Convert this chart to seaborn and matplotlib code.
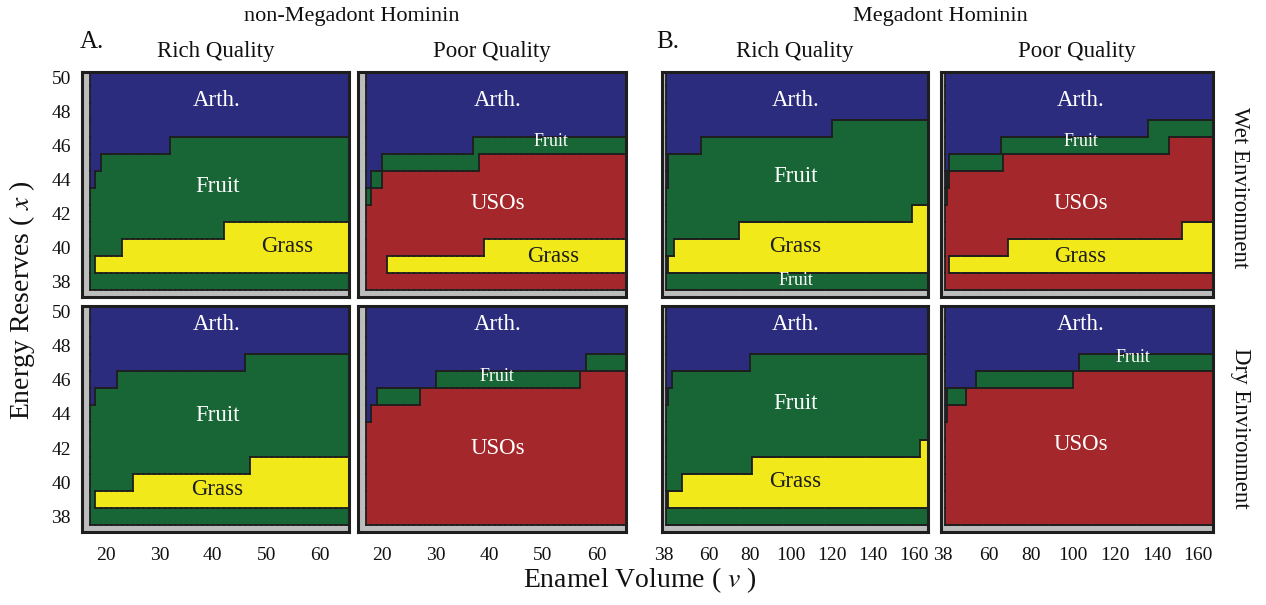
import numpy as np
import matplotlib
matplotlib.use("Agg")
import matplotlib.pyplot as plt
import seaborn as sns
from matplotlib.colors import ListedColormap
from matplotlib.collections import LineCollection

# foraging decision categories and their fills
categories = ["Dead", "Arth.", "Fruit", "USOs", "Grass"]
palette = ["#bdbdbd", "#2b2c7e", "#186535", "#a4282b", "#f2e91b"]

# energy reserves (rows, top to bottom) and enamel volume (columns)
reserves = list(range(50, 36, -1))
dead_reserve = 37
enamel_nm = list(range(15, 66))
enamel_m = list(range(37, 167))
dead_nm = [15, 16]
dead_m = [37, 38]

# bands from top to bottom; each cut = [(enamel from, lowest reserve of band)]
nm_wet_rich_bands = ["Arth.", "Fruit", "Grass", "Fruit"]
nm_wet_rich_cuts = [[(17, 44), (18, 45), (19, 46), (32, 47)],
                    [(17, 39), (18, 40), (23, 41), (42, 42)],
                    [(17, 39)]]

nm_wet_poor_bands = ["Arth.", "Fruit", "USOs", "Grass", "USOs"]
nm_wet_poor_cuts = [[(17, 44), (18, 45), (20, 46), (37, 47)],
                    [(17, 43), (18, 44), (20, 45), (38, 46)],
                    [(17, 39), (21, 40), (39, 41)],
                    [(17, 39)]]

nm_dry_rich_bands = ["Arth.", "Fruit", "Grass", "Fruit"]
nm_dry_rich_cuts = [[(17, 45), (18, 46), (22, 47), (46, 48)],
                    [(17, 39), (18, 40), (25, 41), (47, 42)],
                    [(17, 39)]]

nm_dry_poor_bands = ["Arth.", "Fruit", "USOs"]
nm_dry_poor_cuts = [[(17, 44), (18, 45), (19, 46), (30, 47), (58, 48)],
                    [(17, 44), (18, 45), (27, 46), (57, 47)]]

m_wet_rich_bands = ["Arth.", "Fruit", "Grass", "Fruit"]
m_wet_rich_cuts = [[(39, 44), (40, 46), (56, 47), (120, 48)],
                   [(39, 39), (40, 40), (43, 41), (75, 42), (159, 43)],
                   [(39, 39)]]

m_wet_poor_bands = ["Arth.", "Fruit", "USOs", "Grass", "USOs"]
m_wet_poor_cuts = [[(39, 44), (40, 45), (41, 46), (66, 47), (136, 48)],
                   [(39, 43), (40, 44), (41, 45), (67, 46), (146, 47)],
                   [(39, 39), (41, 40), (69, 41), (152, 42)],
                   [(39, 39)]]

m_dry_rich_bands = ["Arth.", "Fruit", "Grass", "Fruit"]
m_dry_rich_cuts = [[(39, 45), (40, 46), (42, 47), (80, 48)],
                   [(39, 39), (40, 40), (47, 41), (81, 42), (163, 43)],
                   [(39, 39)]]

m_dry_poor_bands = ["Arth.", "Fruit", "USOs"]
m_dry_poor_cuts = [[(39, 44), (40, 46), (54, 47), (103, 48)],
                   [(39, 44), (40, 45), (49, 46), (100, 47)]]

nm_ticks = [20, 30, 40, 50, 60]
m_ticks = [38, 60, 80, 100, 120, 140, 160]
reserve_ticks = [38, 40, 42, 44, 46, 48, 50]


def decision_grid(enamel, dead_cols, bands, cuts):
    grid = np.zeros((len(reserves), len(enamel)), dtype=int)
    for j, v in enumerate(enamel):
        floors = []
        for steps in cuts:
            lev = steps[0][1]
            for v_from, level in steps:
                if v >= v_from:
                    lev = level
            floors.append(lev)
        for i, x in enumerate(reserves):
            band = bands[-1]
            for b, lev in enumerate(floors):
                if x >= lev:
                    band = bands[b]
                    break
            grid[i, j] = categories.index(band)
        if v in dead_cols:
            grid[:, j] = 0
    grid[reserves.index(dead_reserve), :] = 0
    return grid


def edges(grid):
    segs = []
    nr, nc = grid.shape
    for i in range(nr):
        for j in range(nc):
            if j + 1 < nc and grid[i, j] != grid[i, j + 1]:
                segs.append([(j + 1, i), (j + 1, i + 1)])
            if i + 1 < nr and grid[i, j] != grid[i + 1, j]:
                segs.append([(j, i + 1), (j + 1, i + 1)])
    return segs


sns.set_style("white")
plt.rcParams["font.family"] = ["Liberation Serif", "DejaVu Serif"]
plt.rcParams["mathtext.fontset"] = "stix"
plt.rcParams["text.color"] = "#111111"
plt.rcParams["xtick.color"] = "#111111"
plt.rcParams["ytick.color"] = "#111111"

W, H = 1266, 605
fig = plt.figure(figsize=(W / 100, H / 100), dpi=100)
cmap = ListedColormap(palette)
edge = "#1e1e1e"

col_px = [(82, 267), (358, 268), (662, 266), (941, 272)]
row_px = [(72, 225), (306, 226)]

panels = [
    (0, 0, enamel_nm, dead_nm, nm_wet_rich_bands, nm_wet_rich_cuts,
     [("Arth.", 40.8, 48.65, 16.5), ("Fruit", 40.8, 43.6, 16.5), ("Grass", 53.9, 40.05, 16.5)]),
    (0, 1, enamel_nm, dead_nm, nm_wet_poor_bands, nm_wet_poor_cuts,
     [("Arth.", 41.5, 48.65, 16.5), ("Fruit", 51.5, 46.25, 13), ("USOs", 41.5, 42.6, 16.5),
      ("Grass", 52.0, 39.5, 16.5)]),
    (1, 0, enamel_nm, dead_nm, nm_dry_rich_bands, nm_dry_rich_cuts,
     [("Arth.", 40.8, 49.2, 16.5), ("Fruit", 40.8, 43.9, 16.5), ("Grass", 40.8, 39.6, 16.5)]),
    (1, 1, enamel_nm, dead_nm, nm_dry_poor_bands, nm_dry_poor_cuts,
     [("Arth.", 41.5, 49.2, 16.5), ("Fruit", 41.5, 46.2, 13), ("USOs", 41.5, 42.0, 16.5)]),
    (0, 2, enamel_m, dead_m, m_wet_rich_bands, m_wet_rich_cuts,
     [("Arth.", 102.4, 48.65, 16.5), ("Fruit", 102.4, 44.15, 16.5), ("Grass", 102.4, 40.05, 16.5),
      ("Fruit", 102.4, 38.07, 13)]),
    (0, 3, enamel_m, dead_m, m_wet_poor_bands, m_wet_poor_cuts,
     [("Arth.", 103.8, 48.65, 16.5), ("Fruit", 103.8, 46.25, 13), ("USOs", 103.8, 42.6, 16.5),
      ("Grass", 103.8, 39.5, 16.5)]),
    (1, 2, enamel_m, dead_m, m_dry_rich_bands, m_dry_rich_cuts,
     [("Arth.", 102.4, 49.2, 16.5), ("Fruit", 102.4, 44.6, 16.5), ("Grass", 102.4, 40.07, 16.5)]),
    (1, 3, enamel_m, dead_m, m_dry_poor_bands, m_dry_poor_cuts,
     [("Arth.", 103.8, 49.2, 16.5), ("Fruit", 129.0, 47.3, 13), ("USOs", 103.8, 42.2, 16.5)]),
]

for r, c, enamel, dead_cols, bands, cuts, labels in panels:
    x0, w = col_px[c]
    y0, h = row_px[r]
    ax = fig.add_axes([x0 / W, 1 - (y0 + h) / H, w / W, h / H])
    grid = decision_grid(enamel, dead_cols, bands, cuts)
    sns.heatmap(grid, cmap=cmap, vmin=-0.5, vmax=len(palette) - 0.5, cbar=False,
                ax=ax, xticklabels=False, yticklabels=False, linewidths=0)
    ax.add_collection(LineCollection(edges(grid), colors=edge, linewidths=1.3,
                                     capstyle="projecting"))
    v0 = enamel[0]
    if enamel is enamel_nm:
        ax.set_xlim(0.5, 50.5)
        ticks = nm_ticks
    else:
        ax.set_xlim(0.2, 130)
        ticks = m_ticks
    ax.set_ylim(13.4, 0.2)
    for s in ax.spines.values():
        s.set_visible(True)
        s.set_linewidth(2.2)
        s.set_color(edge)
    ax.tick_params(length=0, labelsize=14)
    if r == 1:
        ax.set_xticks([t - v0 for t in ticks], [str(t) for t in ticks])
        ax.tick_params(axis="x", pad=11)
    else:
        ax.set_xticks([])
    if c == 0:
        ax.set_yticks([50.5 - t for t in reserve_ticks], [str(t) for t in reserve_ticks])
        ax.tick_params(axis="y", pad=8)
    else:
        ax.set_yticks([])
    ax.set_xlabel("")
    ax.set_ylabel("")
    for text, v, e, size in labels:
        color = "#1e1e1e" if text == "Grass" else "white"
        ax.text(v - v0, 50.5 - e, text, ha="center", va="center", fontsize=size, color=color)

# headers
fig.text(352 / W, 1 - 17 / H, "non-Megadont Hominin", ha="center", va="center", fontsize=16)
fig.text(940 / W, 1 - 17 / H, "Megadont Hominin", ha="center", va="center", fontsize=16)
fig.text(92 / W, 1 - 42 / H, "A.", ha="center", va="center", fontsize=18)
fig.text(668 / W, 1 - 42 / H, "B.", ha="center", va="center", fontsize=18)
for (x0, w), title in zip(col_px, ["Rich Quality", "Poor Quality", "Rich Quality", "Poor Quality"]):
    fig.text((x0 + w / 2) / W, 1 - 52 / H, title, ha="center", va="center", fontsize=16.5)
fig.text(1240 / W, 1 - 188 / H, "Wet Environment", ha="center", va="center",
         rotation=270, fontsize=16.5)
fig.text(1240 / W, 1 - 428 / H, "Dry Environment", ha="center", va="center",
         rotation=270, fontsize=16.5)
fig.text(22 / W, 1 - 300 / H, r"Energy Reserves ( $x$ )", ha="center", va="center",
         rotation=90, fontsize=20)
fig.text(640 / W, 1 - 580 / H, r"Enamel Volume ( $v$ )", ha="center", va="center", fontsize=20)

fig.savefig("out.png", dpi=100)
